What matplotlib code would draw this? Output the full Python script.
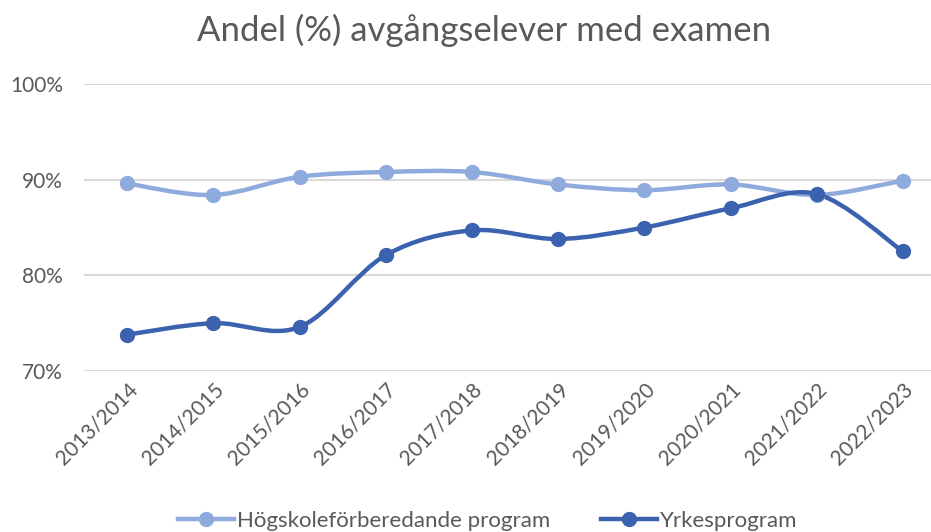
import numpy as np
import matplotlib.pyplot as plt
from matplotlib.path import Path
from matplotlib.patches import PathPatch
from matplotlib.lines import Line2D
from matplotlib.ticker import FuncFormatter

plt.rcParams['font.family'] = ['Lato', 'DejaVu Sans']

lasar = ["2013/2014", "2014/2015", "2015/2016", "2016/2017", "2017/2018",
         "2018/2019", "2019/2020", "2020/2021", "2021/2022", "2022/2023"]
hogskole = [89.6, 88.4, 90.3, 90.8, 90.8, 89.5, 88.9, 89.5, 88.4, 89.9]
yrkes = [73.8, 75.0, 74.6, 82.1, 84.7, 83.8, 85.0, 87.0, 88.5, 82.5]

ljusbla = "#8FAADC"
morkbla = "#3A62AE"


def utjamnad_bana(x, y):
    """Excel-liknande utjämnad linje (Catmull-Rom som Bezier-segment)."""
    x = np.asarray(x, float)
    y = np.asarray(y, float)
    px = np.concatenate([[x[0]], x, [x[-1]]])
    py = np.concatenate([[y[0]], y, [y[-1]]])
    verts = [(x[0], y[0])]
    codes = [Path.MOVETO]
    for i in range(1, len(x)):
        c1 = (px[i] + (px[i + 1] - px[i - 1]) / 6, py[i] + (py[i + 1] - py[i - 1]) / 6)
        c2 = (px[i + 1] - (px[i + 2] - px[i]) / 6, py[i + 1] - (py[i + 2] - py[i]) / 6)
        verts += [c1, c2, (x[i], y[i])]
        codes += [Path.CURVE4] * 3
    return Path(verts, codes)


fig = plt.figure(figsize=(9.31, 5.32), dpi=100)
ax = fig.add_axes([84 / 931, 1 - 371 / 532, (946 - 84) / 931, (371 - 84) / 532])

xs = np.arange(len(lasar))
for serie, farg in [(hogskole, ljusbla), (yrkes, morkbla)]:
    ax.add_patch(PathPatch(utjamnad_bana(xs, serie), fill=False, edgecolor=farg,
                           lw=3.2, capstyle='round', joinstyle='round', zorder=3))
    ax.plot(xs, serie, 'o', color=farg, ms=10, zorder=4)

ax.set_xlim(-0.5, len(lasar) - 0.5)
ax.set_ylim(70, 100)
ax.set_yticks([70, 80, 90, 100])
ax.yaxis.set_major_formatter(FuncFormatter(lambda v, p: f"{v:.0f}%"))
ax.set_xticks(xs)
ax.set_xticklabels(lasar, rotation=45, ha='right', rotation_mode='anchor')
ax.grid(axis='y', color='#D9D9D9', lw=1.5)
ax.set_axisbelow(True)
for s in ax.spines.values():
    s.set_visible(False)
ax.tick_params(length=0, labelsize=15, colors='#595959')
ax.tick_params(axis='y', pad=15)
ax.tick_params(axis='x', pad=6)

fig.text(484 / 931, 1 - 30 / 532, "Andel (%) avgångselever med examen",
         ha='center', va='center', fontsize=25, color='#595959')

handles = [Line2D([], [], color=ljusbla, lw=3.2, marker='o', ms=10),
           Line2D([], [], color=morkbla, lw=3.2, marker='o', ms=10)]
fig.legend(handles, ["Högskoleförberedande program", "Yrkesprogram"],
           loc='center', bbox_to_anchor=(488 / 931, 1 - 521 / 532), ncol=2,
           frameon=False, fontsize=16, labelcolor='#595959', handlelength=2.5,
           columnspacing=2.3, handletextpad=0.15)

fig.savefig("out.png", dpi=100)
